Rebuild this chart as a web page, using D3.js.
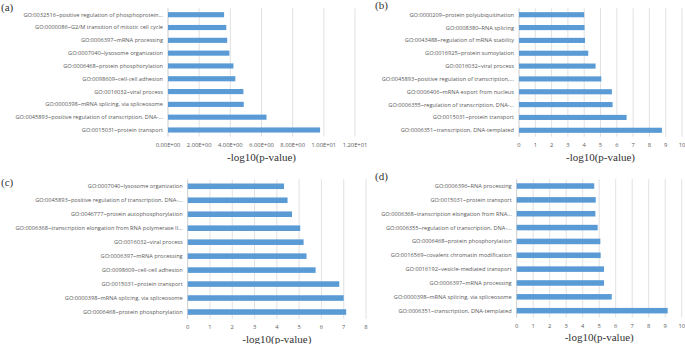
<!DOCTYPE html>
<html>
<head>
<meta charset="utf-8">
<script src="https://cdn.jsdelivr.net/npm/d3@7"></script>
<style>
  body { margin: 0; background: #fff; }
  svg { display: block; }
  .term { font-family: 'Open Sans', sans-serif; font-size: 5.65px; fill: #595959; }
  .tick-label { font-family: 'Open Sans', sans-serif; font-size: 5.8px; fill: #595959; }
  .axis-title { font-family: 'Liberation Serif', 'Times New Roman', 'DejaVu Serif', serif; font-size: 11px; fill: #333; }
  .panel-tag { font-family: 'Liberation Serif', 'Times New Roman', 'DejaVu Serif', serif; font-size: 11px; fill: #333; }
</style>
</head>
<body>
<svg id="chart" width="685" height="344"></svg>
<script>

// panel (a)
var termsA = [
  'GO:0032516~positive regulation of phosphoprotein...',
  'GO:0000086~G2/M transition of mitotic cell cycle',
  'GO:0006397~mRNA processing',
  'GO:0007040~lysosome organization',
  'GO:0006468~protein phosphorylation',
  'GO:0098609~cell-cell adhesion',
  'GO:0016032~viral process',
  'GO:0000398~mRNA splicing, via spliceosome',
  'GO:0045893~positive regulation of transcription, DNA-...',
  'GO:0015031~protein transport'
];
var valuesA = [3.6, 3.74, 3.8, 3.94, 4.2, 4.32, 4.84, 4.86, 6.32, 9.76];
var ticksA = [0, 2, 4, 6, 8, 10, 12];

// panel (b)
var termsB = [
  'GO:0000209~protein polyubiquitination',
  'GO:0008380~RNA splicing',
  'GO:0043488~regulation of mRNA stability',
  'GO:0016925~protein sumoylation',
  'GO:0016032~viral process',
  'GO:0045893~positive regulation of transcription,...',
  'GO:0006406~mRNA export from nucleus',
  'GO:0006355~regulation of transcription, DNA-...',
  'GO:0015031~protein transport',
  'GO:0006351~transcription, DNA-templated'
];
var valuesB = [4.0, 4.02, 4.05, 4.25, 4.7, 5.05, 5.7, 5.74, 6.6, 8.77];
var ticksB = [0, 1, 2, 3, 4, 5, 6, 7, 8, 9, 10];

// panel (c)
var termsC = [
  'GO:0007040~lysosome organization',
  'GO:0045893~positive regulation of transcription, DNA-...',
  'GO:0046777~protein autophosphorylation',
  'GO:0006368~transcription elongation from RNA polymerase II...',
  'GO:0016032~viral process',
  'GO:0006397~mRNA processing',
  'GO:0098609~cell-cell adhesion',
  'GO:0015031~protein transport',
  'GO:0000398~mRNA splicing, via spliceosome',
  'GO:0006468~protein phosphorylation'
];
var valuesC = [4.32, 4.48, 4.68, 5.05, 5.2, 5.33, 5.74, 6.8, 7.0, 7.11];
var ticksC = [0, 1, 2, 3, 4, 5, 6, 7, 8];

// panel (d)
var termsD = [
  'GO:0006396~RNA processing',
  'GO:0015031~protein transport',
  'GO:0006368~transcription elongation from RNA...',
  'GO:0006355~regulation of transcription, DNA-...',
  'GO:0006468~protein phosphorylation',
  'GO:0016569~covalent chromatin modification',
  'GO:0016192~vesicle-mediated transport',
  'GO:0006397~mRNA processing',
  'GO:0000398~mRNA splicing, via spliceosome',
  'GO:0006351~transcription, DNA-templated'
];
var valuesD = [4.7, 4.79, 4.77, 4.91, 5.07, 5.09, 5.29, 5.29, 5.76, 9.15];
var ticksD = [0, 1, 2, 3, 4, 5, 6, 7, 8, 9, 10];

var axisTitle = '-log10(p-value)';

// excel style 0.00E+00
function sci(v)
{
  var parts = v.toExponential(2).split('e');
  var e = parts[1];
  return parts[0] + 'E' + e[0] + e.slice(1).padStart(2, '0');
}

class BarPanel
{
  constructor(tag, terms, values, ticks, fmt, box)
  {
    this.tag = tag;
    this.terms = terms;
    this.values = values;
    this.ticks = ticks;
    this.fmt = fmt;
    this.box = box;

    this.x = d3.scaleLinear()
      .domain([0, d3.max(this.ticks)])
      .range([box.left, box.right]);

    this.y = d3.scaleBand()
      .domain(this.terms)
      .range([box.top, box.bottom])
      .paddingInner(0.6)
      .paddingOuter(0.3);

    this.svg = d3.select('#chart').append('g');
  }

  draw()
  {
    var b = this.box;

    // gridlines
    this.svg.selectAll('.grid')
      .data(this.ticks.slice(1))
      .enter()
      .append('line')
      .attr('x1', d => this.x(d)).attr('x2', d => this.x(d))
      .attr('y1', b.top).attr('y2', b.bottom)
      .attr('stroke', '#d9d9d9')
      .attr('stroke-width', 0.8);

    // value axis line at zero
    this.svg.append('line')
      .attr('x1', this.x(0)).attr('x2', this.x(0))
      .attr('y1', b.top).attr('y2', b.bottom)
      .attr('stroke', '#bfbfbf')
      .attr('stroke-width', 0.8);

    this.svg.selectAll('.bar')
      .data(this.values)
      .enter()
      .append('rect')
      .attr('x', this.x(0))
      .attr('y', (d, i) => this.y(this.terms[i]))
      .attr('width', d => this.x(d) - this.x(0))
      .attr('height', this.y.bandwidth())
      .attr('fill', '#5b9bd5');

    this.svg.selectAll('.term')
      .data(this.terms)
      .enter()
      .append('text')
      .attr('class', 'term')
      .attr('x', this.x(0) - 5)
      .attr('y', d => this.y(d) + this.y.bandwidth() / 2)
      .attr('dy', '0.35em')
      .attr('text-anchor', 'end')
      .text(d => d);

    this.svg.selectAll('.tick-label')
      .data(this.ticks)
      .enter()
      .append('text')
      .attr('class', 'tick-label')
      .attr('x', d => this.x(d))
      .attr('y', b.tickY)
      .attr('dy', '0.35em')
      .attr('text-anchor', 'middle')
      .text(d => this.fmt(d));

    this.svg.append('text')
      .attr('class', 'axis-title')
      .attr('x', (b.left + b.right) / 2)
      .attr('y', b.titleY)
      .attr('dy', '0.35em')
      .attr('text-anchor', 'middle')
      .text(axisTitle);

    this.svg.append('text')
      .attr('class', 'panel-tag')
      .attr('x', b.tagX)
      .attr('y', b.tagY)
      .text(this.tag);
  }
}

var panels = [
  new BarPanel('(a)', termsA, valuesA, ticksA, sci,
    {left: 168, right: 355, top: 8.3, bottom: 136.4, tickY: 145, titleY: 157, tagX: 1, tagY: 11}),
  new BarPanel('(b)', termsB, valuesB, ticksB, d3.format('d'),
    {left: 519, right: 682, top: 8.3, bottom: 136.7, tickY: 145, titleY: 157, tagX: 375, tagY: 9}),
  new BarPanel('(c)', termsC, valuesC, ticksC, d3.format('d'),
    {left: 187.7, right: 366, top: 179.3, bottom: 319, tickY: 326.7, titleY: 339, tagX: 1, tagY: 186}),
  new BarPanel('(d)', termsD, valuesD, ticksD, d3.format('d'),
    {left: 516.7, right: 681.7, top: 179.1, bottom: 317.6, tickY: 325.7, titleY: 337, tagX: 375, tagY: 180})
];

panels.forEach(p => p.draw());

</script>
</body>
</html>
